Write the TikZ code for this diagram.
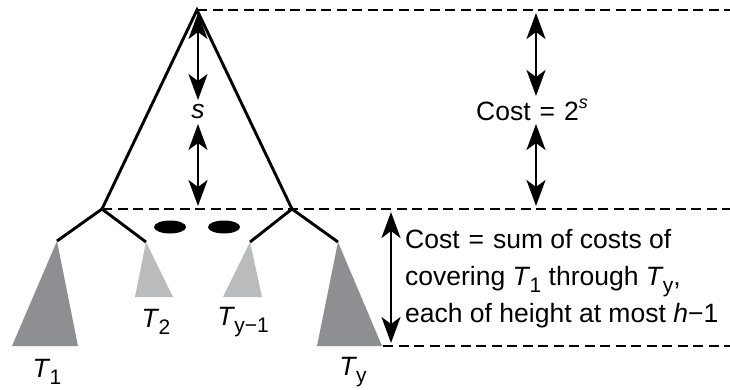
\documentclass[tikz,border=0pt]{standalone}
\usepackage{fontspec}
\setmainfont{Liberation Sans}
\usetikzlibrary{arrows.meta}
\definecolor{darkfill}{RGB}{142,143,146}
\definecolor{lightfill}{RGB}{186,187,189}
\newcommand\Tsub[1]{\textit{T}\kern-0.03em\raisebox{-0.5ex}{\fontsize{21}{21}\selectfont #1}}
\newcommand\eqsign{\kern0.06em=\kern0.06em}
\begin{document}
\begin{tikzpicture}[x=1pt,y=-1pt,
  treeline/.style={line width=2.9pt, line join=miter},
  dashline/.style={line width=2.9pt, dash pattern=on 10pt off 5.5pt},
  dimarrow/.style={line width=2.6pt, {Stealth[length=26pt,width=19pt,inset=7pt]}-{Stealth[length=26pt,width=19pt,inset=7pt]}},
  lbl/.style={inner sep=0pt, font=\fontsize{26.5}{37}\selectfont},
  subtreeA/.style={fill=darkfill},
  subtreeB/.style={fill=lightfill}]
\useasboundingbox (0,0) rectangle (730,389);
% key points
\coordinate (apex) at (197,10);
\coordinate (L) at (102,209);
\coordinate (R) at (292,209);
\coordinate (a1) at (57,241);
\coordinate (a2) at (146,242);
\coordinate (a3) at (250,242);
\coordinate (a4) at (338,242);
\coordinate (topend) at (730,10);
\coordinate (midend) at (730,209);
\coordinate (botstart) at (383,346);
\coordinate (botend) at (730,346);
% subtrees
\fill[subtreeA] (a1) -- (78,346) -- (12,346) -- cycle;
\fill[subtreeB] (a2) -- (173,297) -- (135,297) -- cycle;
\fill[subtreeB] (a3) -- (262,297) -- (223,297) -- cycle;
\fill[subtreeA] (a4) -- (382,346) -- (317,346) -- cycle;
% dashed levels
\draw[dashline] (apex) -- (topend);
\draw[dashline] (L) -- (midend);
\draw[dashline] (botstart) -- (botend);
% tree
\draw[treeline] (L) -- (apex) -- (R);
\draw[treeline] (a1) -- (L) -- (a2);
\draw[treeline] (a3) -- (R) -- (a4);
% ellipsis dots
\fill (170,227) ellipse [x radius=16, y radius=6.5];
\fill (224,227) ellipse [x radius=16, y radius=6.5];
% s arrows
\coordinate (s1a) at (198,13);
\coordinate (s1b) at (198,100);
\coordinate (s2a) at (198,124);
\coordinate (s2b) at (198,206);
\draw[dimarrow] (s1a) -- (s1b);
\draw[dimarrow] (s2a) -- (s2b);
\node[lbl] (slabel) at (198,112) {\textit{s}};
% cost arrows
\coordinate (c1a) at (536,13);
\coordinate (c1b) at (536,96);
\coordinate (c2a) at (536,124);
\coordinate (c2b) at (536,206);
\draw[dimarrow] (c1a) -- (c1b);
\draw[dimarrow] (c2a) -- (c2b);
\node[lbl] (costtop) at (532,110) {Cost \eqsign{} 2\raisebox{0.85ex}{\fontsize{18}{18}\selectfont\textit{s}}};
% bottom arrow
\coordinate (b1) at (391,212);
\coordinate (b2) at (391,343);
\draw[dimarrow] (b1) -- (b2);
\node[lbl, anchor=west, align=left] (costbot) at (405,279) {Cost \eqsign{} sum of costs of\\covering \Tsub{1} through \Tsub{y},\\each of height at most \textit{h}−1};
% subtree labels
\node[lbl] (t1) at (47,372) {\Tsub{1}};
\node[lbl] (t2) at (156,322) {\Tsub{2}};
\node[lbl] (t3) at (243,322) {\Tsub{y−1}};
\node[lbl] (t4) at (353,372) {\Tsub{y}};
\end{tikzpicture}
\end{document}
